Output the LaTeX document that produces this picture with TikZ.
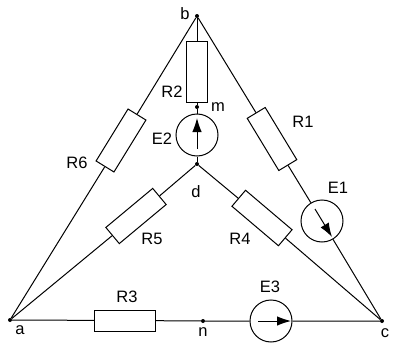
\documentclass[tikz,border=0pt]{standalone}
\usepackage{fontspec}
\setmainfont{Liberation Sans}
\usetikzlibrary{arrows.meta, calc}

\begin{document}
\begin{tikzpicture}[
    x=1pt, y=-1pt,
    wire/.style={draw=black, line width=1pt},
    resistor/.style={
        rectangle,
        draw=black,
        line width=1pt,
        fill=white,
        minimum width=61pt,
        minimum height=21pt,
        inner sep=0pt
    },
    source/.style={
        circle,
        draw=black,
        line width=1pt,
        fill=white,
        minimum size=42pt,
        inner sep=0pt
    },
    junction/.style={circle, fill=black, minimum size=4pt, inner sep=0pt},
    emf/.style={draw=black, line width=1pt, -{Latex[length=14pt, width=9.5pt]}},
    tag/.style={font=\fontsize{16.5}{17}\selectfont, inner sep=0pt}
]
    \useasboundingbox (0,0) rectangle (397,348);

    % Junctions
    \node (a) [junction] at (10,320) {};
    \node (b) [junction] at (197,16) {};
    \node (c) [junction] at (382,321) {};
    \node (d) [junction] at (197,164) {};
    \node (m) [junction] at (197,107) {};
    \node (n) [junction] at (203,321) {};

    % Resistors
    \node (R1) [resistor, rotate=-58.8] at (272,139) {};
    \node (R2) [resistor, rotate=90] at (197,71.5) {};
    \node (R3) [resistor] at (125,320.5) {};
    \node (R4) [resistor, rotate=-40.3] at (262,218) {};
    \node (R5) [resistor, rotate=39.8] at (136,216) {};
    \node (R6) [resistor, rotate=58.4] at (121,140.5) {};

    % Sources
    \node (E1) [source] at (322,221) {};
    \node (E2) [source] at (197,135) {};
    \node (E3) [source] at (271,321) {};

    % Wires
    \draw[wire] (a) -- (R6) (R6) -- (b);
    \draw[wire] (b) -- (R1) (R1) -- (E1) (E1) -- (c);
    \draw[wire] (b) -- (R2) (R2) -- (m) (m) -- (E2) (E2) -- (d);
    \draw[wire] (a) -- (R5) (R5) -- (d);
    \draw[wire] (d) -- (R4) (R4) -- (c);
    \draw[wire] (a) -- (R3) (R3) -- (n) (n) -- (E3) (E3) -- (c);

    % Arrows inside the sources
    \coordinate (E1from) at (315,209);
    \coordinate (E1to) at (332,237);
    \coordinate (E2from) at (197,149);
    \coordinate (E2to) at (197,118);
    \coordinate (E3from) at (258,321);
    \coordinate (E3to) at (291,321);
    \draw[emf] (E1from) -- (E1to);
    \draw[emf] (E2from) -- (E2to);
    \draw[emf] (E3from) -- (E3to);

    % Labels
    \node (tagb) [tag] at (185,14) {b};
    \node (tagm) [tag] at (218,107) {m};
    \node (tagd) [tag] at (196,192) {d};
    \node (taga) [tag] at (20,330) {a};
    \node (tagc) [tag] at (385,333) {c};
    \node (tagn) [tag] at (203,332) {n};
    \node (tagR1) [tag] at (303,122) {R1};
    \node (tagR2) [tag] at (172,92) {R2};
    \node (tagR3) [tag] at (127,297) {R3};
    \node (tagR4) [tag] at (240,239) {R4};
    \node (tagR5) [tag] at (152,239) {R5};
    \node (tagR6) [tag] at (77,163) {R6};
    \node (tagE1) [tag] at (338,188) {E1};
    \node (tagE2) [tag] at (162,139) {E2};
    \node (tagE3) [tag] at (270,287) {E3};

\end{tikzpicture}
\end{document}
